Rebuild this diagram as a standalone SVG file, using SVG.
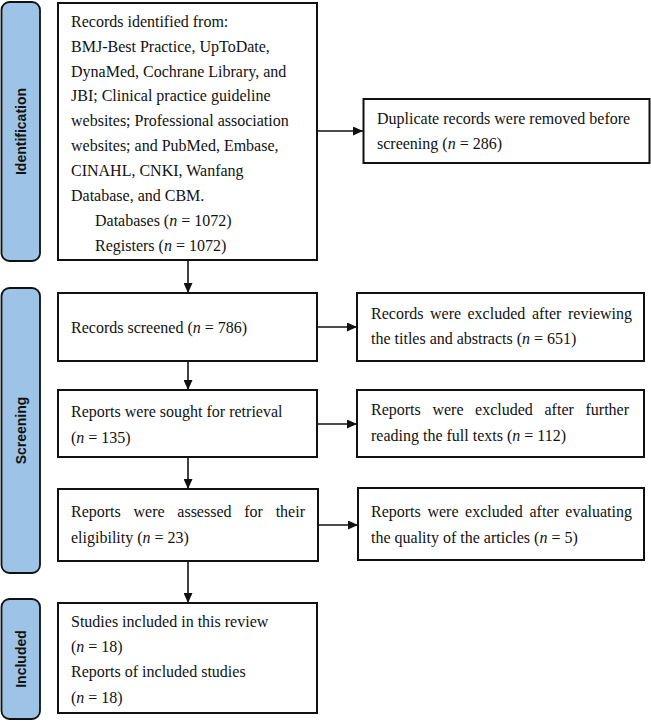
<svg xmlns="http://www.w3.org/2000/svg" width="651" height="721" viewBox="0 0 651 721">
<style>
.box{fill:#fff;stroke:#111;stroke-width:2}
.bar{fill:#9dc3e6;stroke:#111;stroke-width:1.8}
.t{font-family:"Liberation Serif","Times New Roman",serif;font-size:16px;fill:#111}
.lab{font-family:"Liberation Sans",Arial,sans-serif;font-size:14px;font-weight:bold;fill:#111;text-anchor:middle}
.c{stroke:#111;stroke-width:1.6;fill:none}
</style>
<defs>
<marker id="ah" markerUnits="userSpaceOnUse" markerWidth="10" markerHeight="9" refX="10" refY="4.5" orient="auto">
<path d="M0,0 L10,4.5 L0,9 z" fill="#111"/>
</marker>
</defs>

<g id="bar-identification">
<rect class="bar" x="1.5" y="2" width="38.5" height="259" rx="8"/>
<text class="lab" transform="translate(26,131.5) rotate(-90)">Identification</text>
</g>
<g id="bar-screening">
<rect class="bar" x="1.5" y="288" width="38.5" height="285" rx="8"/>
<text class="lab" transform="translate(26,430.5) rotate(-90)">Screening</text>
</g>
<g id="bar-included">
<rect class="bar" x="1.5" y="599" width="38.5" height="120" rx="8"/>
<text class="lab" transform="translate(26,659) rotate(-90)">Included</text>
</g>

<g id="connectors">
<line class="c" x1="188" y1="260" x2="188" y2="293" marker-end="url(#ah)"/>
<line class="c" x1="188" y1="361" x2="188" y2="390" marker-end="url(#ah)"/>
<line class="c" x1="188" y1="457" x2="188" y2="489" marker-end="url(#ah)"/>
<line class="c" x1="188" y1="561" x2="188" y2="603" marker-end="url(#ah)"/>
<line class="c" x1="317" y1="131" x2="363" y2="131" marker-end="url(#ah)"/>
<line class="c" x1="317" y1="327" x2="357" y2="327" marker-end="url(#ah)"/>
<line class="c" x1="317" y1="424" x2="357" y2="424" marker-end="url(#ah)"/>
<line class="c" x1="318" y1="525" x2="358" y2="525" marker-end="url(#ah)"/>
</g>

<g id="identified">
<rect class="box" x="58" y="3" width="259" height="257"/>
<text class="t" x="71" y="27">Records identified from:</text>
<text class="t" x="71" y="52">BMJ-Best Practice, UpToDate,</text>
<text class="t" x="71" y="77">DynaMed, Cochrane Library, and</text>
<text class="t" x="71" y="101">JBI; Clinical practice guideline</text>
<text class="t" x="71" y="126">websites; Professional association</text>
<text class="t" x="71" y="151">websites; and PubMed, Embase,</text>
<text class="t" x="71" y="176">CINAHL, CNKI, Wanfang</text>
<text class="t" x="71" y="201">Database, and CBM.</text>
<text class="t" x="95" y="226">Databases (<tspan font-style="italic">n</tspan> = 1072)</text>
<text class="t" x="95" y="251">Registers (<tspan font-style="italic">n</tspan> = 1072)</text>
</g>

<g id="duplicates">
<rect class="box" x="363.5" y="99" width="286" height="64"/>
<text class="t" x="377" y="124">Duplicate records were removed before</text>
<text class="t" x="377" y="149">screening (<tspan font-style="italic">n</tspan> = 286)</text>
</g>

<g id="screened">
<rect class="box" x="58" y="293" width="259" height="68"/>
<text class="t" x="71" y="333">Records screened (<tspan font-style="italic">n</tspan> = 786)</text>
</g>

<g id="excluded-titles">
<rect class="box" x="357" y="293" width="287" height="68"/>
<text class="t" y="319"><tspan x="371">Records</tspan><tspan x="430">were</tspan><tspan x="467.5">excluded</tspan><tspan x="532">after</tspan><tspan x="632" text-anchor="end">reviewing</tspan></text>
<text class="t" x="371" y="344">the titles and abstracts (<tspan font-style="italic">n</tspan> = 651)</text>
</g>

<g id="sought">
<rect class="box" x="58" y="390" width="259" height="67"/>
<text class="t" x="71" y="417">Reports were sought for retrieval</text>
<text class="t" x="71" y="443">(<tspan font-style="italic">n</tspan> = 135)</text>
</g>

<g id="excluded-fulltext">
<rect class="box" x="357" y="390" width="287" height="67"/>
<text class="t" y="415"><tspan x="371">Reports</tspan><tspan x="432.4">were</tspan><tspan x="475.1">excluded</tspan><tspan x="544.5">after</tspan><tspan x="629" text-anchor="end">further</tspan></text>
<text class="t" x="371" y="441">reading the full texts (<tspan font-style="italic">n</tspan> = 112)</text>
</g>

<g id="assessed">
<rect class="box" x="58" y="489" width="260" height="72"/>
<text class="t" y="517"><tspan x="71">Reports</tspan><tspan x="133.5">were</tspan><tspan x="177.3">assessed</tspan><tspan x="244.2">for</tspan><tspan x="305" text-anchor="end">their</tspan></text>
<text class="t" x="71" y="543">eligibility (<tspan font-style="italic">n</tspan> = 23)</text>
</g>

<g id="excluded-quality">
<rect class="box" x="358" y="488" width="286" height="72"/>
<text class="t" y="517"><tspan x="371">Reports</tspan><tspan x="427.4">were</tspan><tspan x="465.1">excluded</tspan><tspan x="529.5">after</tspan><tspan x="632" text-anchor="end">evaluating</tspan></text>
<text class="t" x="371" y="543">the quality of the articles (<tspan font-style="italic">n</tspan> = 5)</text>
</g>

<g id="included">
<rect class="box" x="58" y="603" width="259" height="110"/>
<text class="t" x="71" y="627">Studies included in this review</text>
<text class="t" x="71" y="652">(<tspan font-style="italic">n</tspan> = 18)</text>
<text class="t" x="71" y="677">Reports of included studies</text>
<text class="t" x="71" y="703">(<tspan font-style="italic">n</tspan> = 18)</text>
</g>
</svg>
